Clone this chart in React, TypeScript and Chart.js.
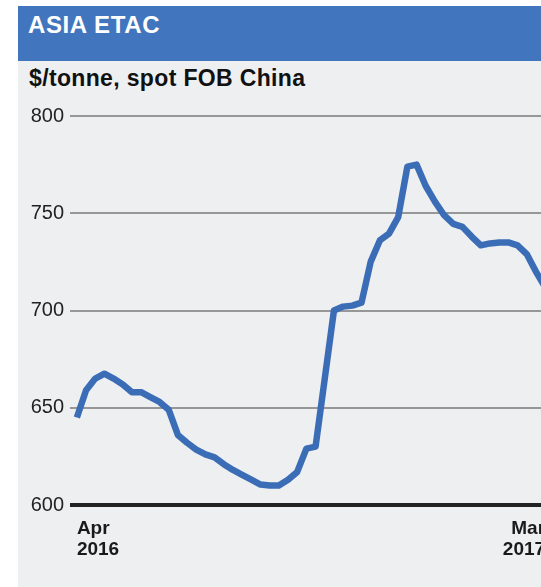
import React, { useEffect, useRef } from "react";
import { Chart, registerables } from "chart.js";

Chart.register(...registerables);

const title = "ASIA ETAC";
const subtitle = "$/tonne, spot FOB China";

// weekly spot assessments, Apr 2016 -> Mar 2017
const prices = [
  645, 659, 665, 667.5, 665, 662, 658, 658, 655.5, 653, 649, 636, 632, 628.5,
  626, 624.5, 621, 618, 615.5, 613, 610.5, 610, 610, 613, 617, 629, 630, 665,
  700, 702, 702.5, 704, 725, 736, 739.5, 748, 774, 775, 764, 756, 749, 744.5,
  743, 738, 733.5, 734.5, 735, 735, 733.5, 729, 720, 712,
];
const weeks = prices.map((_, i) => i);

const yMin = 600;
const yMax = 800;
const yStep = 50;

const xTickWeeks = [0, 51];
const xTickLabels = [
  ["Apr", "2016"],
  ["Mar", "2017"],
];

const BLUE = "#4176BE";
const LINE = "#3B6DB7";
const PANEL = "#EEEFF1";
const FONT = "'Liberation Sans', Arial, sans-serif";

export default function App() {
  const canvasRef = useRef<HTMLCanvasElement | null>(null);

  useEffect(() => {
    document.body.style.margin = "0";
    document.body.style.overflow = "hidden";
    const canvas = canvasRef.current;
    if (!canvas) return;
    const chart = new Chart(canvas, {
      type: "line",
      data: {
        datasets: [
          {
            data: weeks.map((w, i) => ({ x: w, y: prices[i] })),
            borderColor: LINE,
            borderWidth: 6.5,
            borderJoinStyle: "round",
            borderCapStyle: "butt",
            pointRadius: 0,
            tension: 0,
            fill: false,
          },
        ],
      },
      options: {
        animation: false,
        responsive: false,
        maintainAspectRatio: false,
        layout: { padding: { top: 116, right: 14, left: 0, bottom: 0 } },
        plugins: {
          legend: { display: false },
          tooltip: { enabled: false },
          title: { display: false },
        },
        scales: {
          x: {
            type: "linear",
            min: -0.75,
            max: 51.1,
            grid: { display: false, drawTicks: false },
            border: { display: false },
            afterBuildTicks: (scale: any) => {
              scale.ticks = xTickWeeks.map((v) => ({ value: v }));
            },
            afterFit: (scale: any) => {
              scale.height = 82;
            },
            ticks: {
              autoSkip: false,
              maxRotation: 0,
              minRotation: 0,
              align: "inner",
              padding: 13,
              color: "#1a1a1a",
              font: { family: FONT, size: 19, weight: "bold", lineHeight: 1.1 },
              callback: (value: any) => {
                const idx = xTickWeeks.indexOf(Number(value));
                return idx >= 0 ? xTickLabels[idx] : "";
              },
            },
          },
          y: {
            min: yMin,
            max: yMax,
            border: { display: false },
            afterFit: (scale: any) => {
              scale.width = 70;
            },
            grid: {
              drawTicks: false,
              color: (ctx: any) => (ctx.tick && ctx.tick.value === yMin ? "#222222" : "#979797"),
              lineWidth: (ctx: any) => (ctx.tick && ctx.tick.value === yMin ? 4 : 2),
            },
            ticks: {
              stepSize: yStep,
              padding: 6,
              color: "#222222",
              font: { family: FONT, size: 20 },
            },
          },
        },
      },
    });
    return () => chart.destroy();
  }, []);

  return (
    <div
      style={{
        position: "relative",
        width: 541,
        height: 587,
        overflow: "hidden",
        background: "#ffffff",
        fontFamily: FONT,
      }}
    >
      <div
        style={{
          position: "absolute",
          left: 18,
          top: 6,
          right: 0,
          bottom: 0,
          background: PANEL,
        }}
      />
      <div
        style={{
          position: "absolute",
          left: 18,
          top: 6,
          right: 0,
          height: 55,
          background: BLUE,
        }}
      />
      <div
        style={{
          position: "absolute",
          left: 28,
          top: 13,
          fontSize: 24,
          lineHeight: "24px",
          fontWeight: "bold",
          color: "#ffffff",
          whiteSpace: "nowrap",
          letterSpacing: "0.6px",
        }}
      >
        {title}
      </div>
      <div
        style={{
          position: "absolute",
          left: 29,
          top: 67,
          fontSize: 23,
          lineHeight: "23px",
          fontWeight: "bold",
          color: "#111111",
          whiteSpace: "nowrap",
          letterSpacing: "0.35px",
        }}
      >
        {subtitle}
      </div>
      <canvas
        ref={canvasRef}
        width={560}
        height={587}
        style={{ position: "absolute", left: 0, top: 0, width: 560, height: 587 }}
      />
    </div>
  );
}
